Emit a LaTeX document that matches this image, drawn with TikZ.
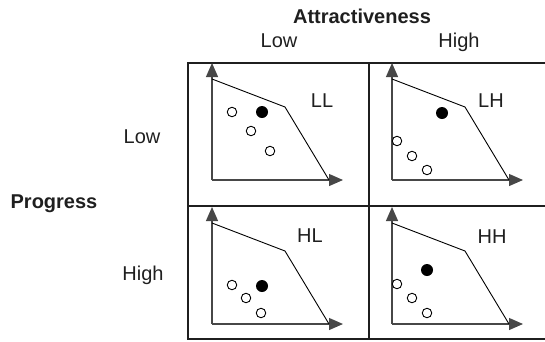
\documentclass[tikz,border=0pt]{standalone}
\usepackage{fontspec}
\setmainfont{Liberation Sans}
\usetikzlibrary{arrows.meta}
\newcommand\quadcell[3]{%
  \begin{scope}[shift={(#2,#3)}]
    \coordinate (#1o) at (0,0);
    \coordinate (#1y) at (0,-117);
    \coordinate (#1x) at (131,0);
    \coordinate (#1a) at (0,-101);
    \coordinate (#1b) at (73,-73);
    \coordinate (#1c) at (117,0);
    \draw[axisline] (#1o) -- (#1y);
    \draw[axisline] (#1o) -- (#1x);
    \draw[front] (#1a) -- (#1b) -- (#1c);
  \end{scope}}
\begin{document}
\begin{tikzpicture}[x=1pt,y=-1pt,
  frame/.style={line width=1.3pt, black!88},
  axisline/.style={line width=1.2pt, black!72, -{Triangle[length=14pt,width=12pt]}},
  front/.style={line width=0.9pt, black},
  opendot/.style={circle, draw=black, line width=0.9pt, fill=white, minimum size=9.5pt, inner sep=0pt},
  filldot/.style={circle, fill=black, minimum size=12pt, inner sep=0pt},
  lbl/.style={font=\fontsize{20}{24}\selectfont, anchor=base, text=black!88},
  hdr/.style={font=\fontsize{20}{24}\selectfont\bfseries, anchor=base, text=black!88}]
\useasboundingbox (0,0) rectangle (545,341);
% frame
\coordinate (tl) at (188,63);
\coordinate (tr) at (560,63);
\coordinate (ml) at (188,206);
\coordinate (mr) at (560,206);
\coordinate (bl) at (188,339);
\coordinate (br) at (560,339);
\coordinate (vt) at (369,63);
\coordinate (vb) at (369,339);
\draw[frame] (tr) -- (tl) -- (bl) -- (br);
\draw[frame] (ml) -- (mr);
\draw[frame] (vt) -- (vb);
% headers
\node[hdr] (attr) at (362,23) {Attractiveness};
\node[lbl] (clow) at (279,47) {Low};
\node[lbl] (chigh) at (459,47) {High};
\node[hdr] (prog) at (54,208) {Progress};
\node[lbl] (rlow) at (142,143) {Low};
\node[lbl] (rhigh) at (143,280) {High};
% cells
\quadcell{LL}{212}{180}
\quadcell{LH}{392}{180}
\quadcell{HL}{212}{324}
\quadcell{HH}{392}{324}
\node[lbl] (tLL) at (322,107) {LL};
\node[lbl] (tLH) at (491,107) {LH};
\node[lbl] (tHL) at (310,242) {HL};
\node[lbl] (tHH) at (492,243) {HH};
% LL dots
\node[opendot] (LL1) at (232,112) {};
\node[filldot] (LL2) at (262,112) {};
\node[opendot] (LL3) at (251,131) {};
\node[opendot] (LL4) at (270,151) {};
% LH dots
\node[filldot] (LH1) at (442,113) {};
\node[opendot] (LH2) at (397,141) {};
\node[opendot] (LH3) at (412,156) {};
\node[opendot] (LH4) at (427,170) {};
% HL dots
\node[opendot] (HL1) at (232,285) {};
\node[filldot] (HL2) at (262,286) {};
\node[opendot] (HL3) at (246,298) {};
\node[opendot] (HL4) at (261,313) {};
% HH dots
\node[filldot] (HH1) at (427,270) {};
\node[opendot] (HH2) at (397,284) {};
\node[opendot] (HH3) at (412,298) {};
\node[opendot] (HH4) at (427,313) {};
\end{tikzpicture}
\end{document}
